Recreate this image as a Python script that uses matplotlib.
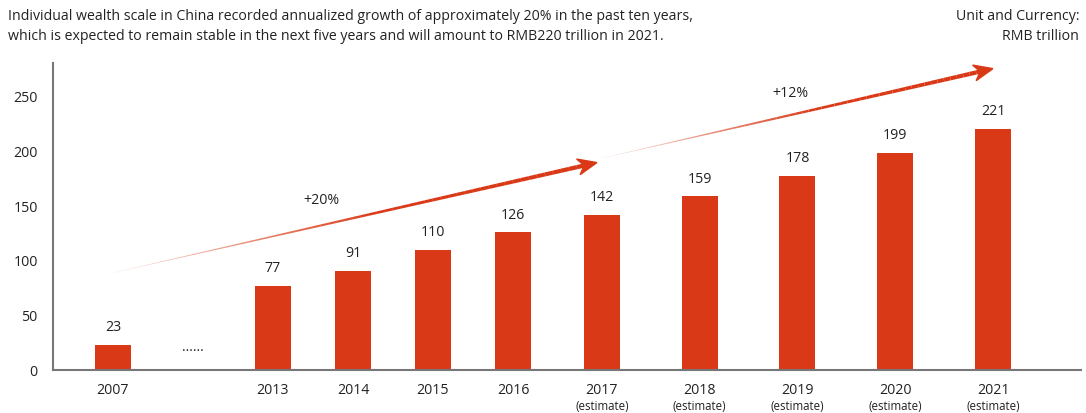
import numpy as np
import matplotlib
matplotlib.use('Agg')
import matplotlib.pyplot as plt
from matplotlib.collections import LineCollection
from matplotlib.patches import Polygon
from matplotlib.colors import to_rgba

# data
years = ['2007', '2013', '2014', '2015', '2016', '2017', '2018', '2019', '2020', '2021']
values = [23, 77, 91, 110, 126, 142, 159, 178, 199, 221]
is_estimate = [False, False, False, False, False, True, True, True, True, True]
growth_labels = ['+20%', '+12%']
yticks = [0, 50, 100, 150, 200, 250]

RED = '#DA3917'
TXT = '#222222'
plt.rcParams['font.family'] = ['Open Sans', 'DejaVu Sans']

# slot layout: actual years 80px apart (with a gap after 2007), estimates wider apart
n_act = sum(1 for e in is_estimate if not e)
n_est = len(years) - n_act
xpos = np.concatenate([[0], np.arange(2, 2 + n_act - 1), np.linspace(6.11, 11.0, n_est)])

fig = plt.figure(figsize=(10.86, 4.13), dpi=100)
ax = fig.add_axes([0.0488, 0.1041, 0.9466, 0.7434])
ax.set_xlim(-0.75, 12.1)
ax.set_ylim(0, 281)

ax.bar(xpos, values, width=0.45, color=RED, zorder=2)
for x, v in zip(xpos, values):
    ax.annotate(str(v), (x, v), xytext=(0, 7), textcoords='offset points',
                ha='center', va='bottom', fontsize=10.2, color=TXT)

for s in ['top', 'right']:
    ax.spines[s].set_visible(False)
for s in ['left', 'bottom']:
    ax.spines[s].set_color('#777777')
    ax.spines[s].set_linewidth(1.5)

ax.set_yticks(yticks)
ax.set_yticklabels([str(t) for t in yticks], fontsize=10.2, color=TXT)
ax.set_xticks(xpos)
ax.set_xticklabels(years, fontsize=10.2, color=TXT)
ax.tick_params(axis='both', length=0)
ax.tick_params(axis='y', pad=11)
ax.tick_params(axis='x', pad=9)
for x, e in zip(xpos, is_estimate):
    if e:
        ax.annotate('(estimate)', (x, 0), xytext=(0, -26.5), textcoords='offset points',
                    ha='center', va='center', fontsize=8.3, color=TXT, annotation_clip=False)

ax.text(1, 14, '......', ha='center', va='bottom', fontsize=10, color=TXT)


def growth_arrow(p0, p1, n=60):
    # tapered line fading in from the start, with a notched head
    t = np.linspace(0, 1, n + 1)
    xs = p0[0] + (p1[0] - p0[0]) * t
    ys = p0[1] + (p1[1] - p0[1]) * t
    segs = [[(xs[i], ys[i]), (xs[i + 1], ys[i + 1])] for i in range(n)]
    tm = (t[:-1] + t[1:]) / 2
    widths = 0.2 + 3.0 * tm
    base = np.array(to_rgba(RED))
    cols = np.tile(base, (n, 1))
    cols[:, 3] = np.clip(0.12 + 1.6 * tm, 0, 1)
    ax.add_collection(LineCollection(segs, linewidths=widths, colors=cols,
                                     capstyle='butt', zorder=3))
    a = ax.transData.transform(p0)
    b = ax.transData.transform(p1)
    d = (b - a) / np.hypot(*(b - a))
    nrm = np.array([-d[1], d[0]])
    tip = b + d * 4
    pts = [tip, tip - d * 19 + nrm * 8, tip - d * 13, tip - d * 19 - nrm * 8]
    ax.add_patch(Polygon(pts, closed=True, color=RED, transform=None, zorder=4))


growth_arrow((0.0, 89), (6.0, 189))
growth_arrow((6.12, 194), (10.95, 275))
ax.text(2.6, 155, growth_labels[0], ha='center', va='center', fontsize=10.2, color=TXT)
ax.text(8.47, 253, growth_labels[1], ha='center', va='center', fontsize=10.2, color=TXT)

fig.text(8 / 1086, 1 - 17 / 413,
         'Individual wealth scale in China recorded annualized growth of approximately 20% in the past ten years,',
         ha='left', va='center', fontsize=10.2, color=TXT)
fig.text(8 / 1086, 1 - 37 / 413,
         'which is expected to remain stable in the next five years and will amount to RMB220 trillion in 2021.',
         ha='left', va='center', fontsize=10.2, color=TXT)
fig.text(1079 / 1086, 1 - 17 / 413, 'Unit and Currency:', ha='right', va='center',
         fontsize=10.2, color=TXT)
fig.text(1079 / 1086, 1 - 37 / 413, 'RMB trillion', ha='right', va='center',
         fontsize=10.2, color=TXT)

fig.savefig('out.png', dpi=100)
